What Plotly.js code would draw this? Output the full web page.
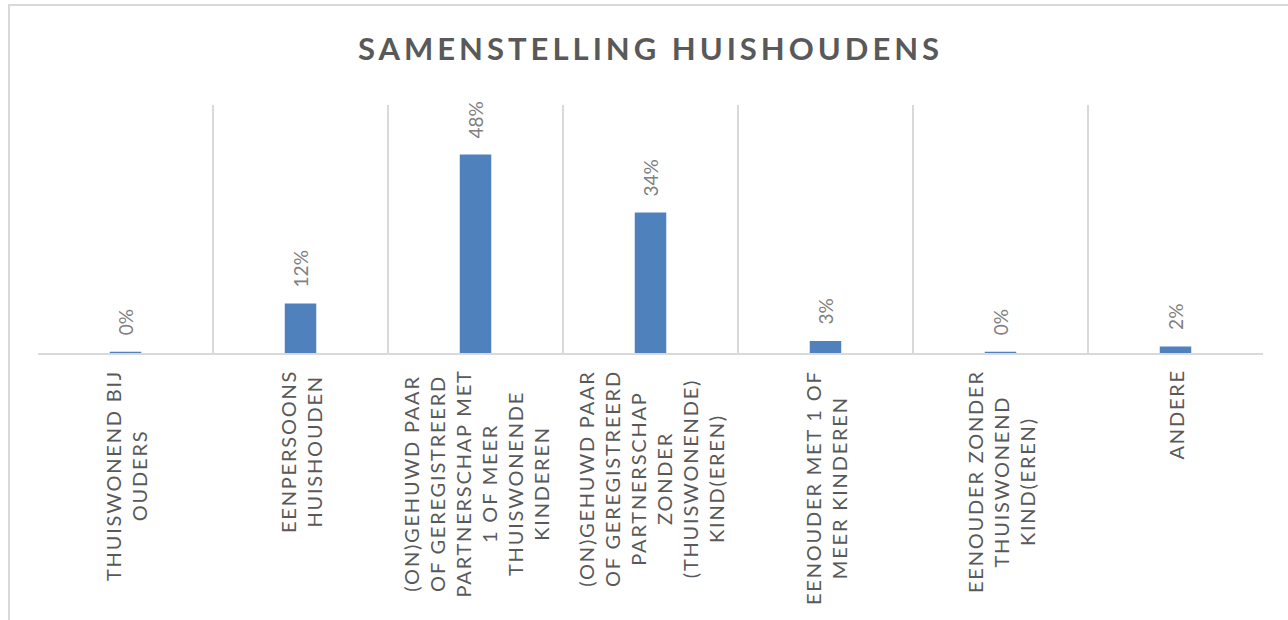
<!DOCTYPE html>
<html>
<head>
<meta charset="utf-8">
<script src="https://cdn.plot.ly/plotly-3.0.1.min.js"></script>
<style>
  html, body { margin: 0; padding: 0; background: #ffffff; }
  #chart { width: 1288px; height: 620px; }
  #frame { position: absolute; left: 8px; top: 4px; width: 1290px; height: 630px;
           border-left: 2px solid #d9d9d9; border-top: 2px solid #d9d9d9;
           pointer-events: none; box-sizing: border-box; }
</style>
</head>
<body>
<div id="chart"></div>
<div id="frame"></div>
<script>
// ---- data ----
const categories = [
  "THUISWONEND BIJ<br>OUDERS",
  "EENPERSOONS<br>HUISHOUDEN",
  "(ON)GEHUWD PAAR<br>OF GEREGISTREERD<br>PARTNERSCHAP MET<br>1 OF MEER<br>THUISWONENDE<br>KINDEREN",
  "(ON)GEHUWD PAAR<br>OF GEREGISTREERD<br>PARTNERSCHAP<br>ZONDER<br>(THUISWONENDE)<br>KIND(EREN)",
  "EENOUDER MET 1 OF<br>MEER KINDEREN",
  "EENOUDER ZONDER<br>THUISWONEND<br>KIND(EREN)",
  "ANDERE"
];
const shares = [0.003, 0.12, 0.48, 0.34, 0.029, 0.003, 0.016];
const chartTitle = "SAMENSTELLING HUISHOUDENS";

// ---- styling ----
const FONT = "Lato, 'Open Sans', sans-serif";
const barColor = "#4F81BD";
const catSpacing = "1.8px";

function spaced(label, sp) {
  return label.split("<br>").map(l => `<span style="letter-spacing:${sp}">${l}</span>`).join("<br>");
}

const annotations = [];
categories.forEach((c, i) => {
  annotations.push({
    x: c, y: 0, xref: "x", yref: "y",
    yanchor: "top", xanchor: "center", yshift: -15,
    textangle: -90, align: "center", showarrow: false,
    text: spaced(c, catSpacing),
    font: { family: FONT, size: 20, color: "#595959" }
  });
});
shares.forEach((v, i) => {
  annotations.push({
    x: categories[i], y: v, xref: "x", yref: "y",
    yanchor: "bottom", xanchor: "center", yshift: 14,
    textangle: -90, showarrow: false,
    text: Math.round(v * 100) + "%",
    font: { family: FONT, size: 19, color: "#808080" }
  });
});

const trace = {
  type: "bar",
  x: categories,
  y: shares,
  width: 0.18,
  marker: { color: barColor },
  hoverinfo: "skip"
};

const layout = {
  width: 1288, height: 620, autosize: false,
  margin: { l: 38, r: 25, t: 105, b: 267, pad: 0 },
  paper_bgcolor: "#ffffff", plot_bgcolor: "#ffffff",
  showlegend: false,
  title: {
    text: `<span style="letter-spacing:4px">${chartTitle}</span>`,
    x: 0.5, xref: "paper", xanchor: "center",
    y: 0.921, yref: "container", yanchor: "middle",
    font: { family: FONT, size: 31, color: "#595959", weight: "bold" }
  },
  xaxis: {
    type: "category",
    tickson: "boundaries",
    showgrid: true, gridcolor: "#d9d9d9", gridwidth: 1.5,
    showline: true, linecolor: "#d9d9d9", linewidth: 1.5,
    ticks: "", showticklabels: false, zeroline: false,
    fixedrange: true
  },
  yaxis: {
    range: [0, 0.6],
    showgrid: false, zeroline: false, showline: false,
    showticklabels: false, ticks: "", fixedrange: true
  },
  annotations: annotations
};

Plotly.newPlot("chart", [trace], layout, { displayModeBar: false, staticPlot: true });
</script>
</body>
</html>
